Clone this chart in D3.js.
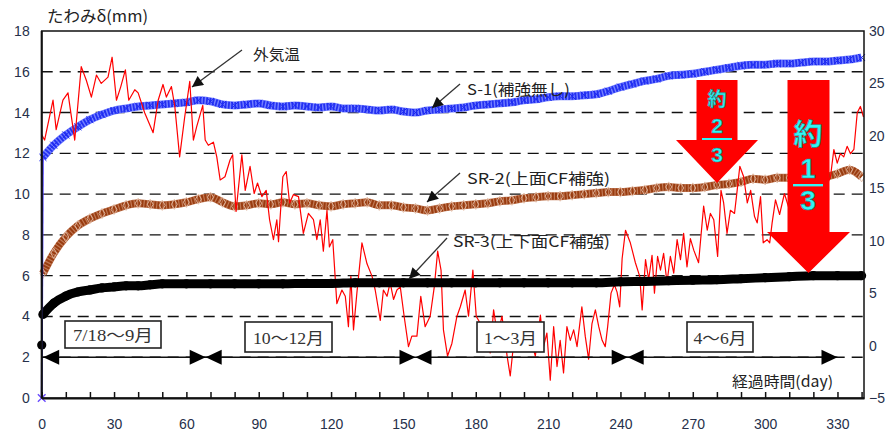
<!DOCTYPE html>
<html>
<head>
<meta charset="utf-8">
<script src="https://cdn.jsdelivr.net/npm/d3@7"></script>
<style>
body { margin: 0; background: #fff; }
text { font-family: "Liberation Sans", Arial, sans-serif; }
</style>
</head>
<body>
<div id="chart-area"></div>
<script>
// deflection series [day, mm]
var s1 = [[0,0],[0.5,11.8],[5,12.4],[10,12.9],[15,13.3],[20,13.65],[25,13.9],[30,14.1],[35,14.2],[40,14.3],
  [45,14.35],[50,14.4],[55,14.45],[60,14.5],[65,14.6],[70,14.55],[75,14.4],[80,14.35],[85,14.4],[90,14.45],
  [95,14.35],[100,14.3],[105,14.35],[110,14.3],[115,14.25],[120,14.3],[125,14.2],[130,14.2],[135,14.15],[140,14.1],
  [145,14.15],[150,14.05],[155,14.0],[160,14.1],[165,14.15],[170,14.2],[175,14.25],[180,14.35],[185,14.4],[190,14.45],
  [195,14.5],[200,14.6],[205,14.65],[210,14.75],[215,14.8],[220,14.8],[225,14.85],[230,14.9],[235,15.05],[240,15.25],
  [245,15.4],[250,15.55],[255,15.65],[260,15.8],[265,15.85],[270,15.9],[275,16.0],[280,16.1],[285,16.2],[290,16.3],
  [295,16.35],[300,16.35],[305,16.4],[310,16.4],[315,16.45],[320,16.5],[325,16.5],[330,16.55],[335,16.6],[340,16.7]];

var sr2 = [[0,0],[0.5,6.1],[5,7.1],[10,7.9],[15,8.45],[20,8.8],[25,9.05],[30,9.25],[35,9.45],[40,9.55],
  [45,9.5],[50,9.45],[55,9.5],[60,9.6],[65,9.75],[70,9.85],[75,9.6],[80,9.4],[85,9.45],[90,9.55],
  [95,9.5],[100,9.6],[105,9.5],[110,9.55],[115,9.45],[120,9.4],[125,9.5],[130,9.55],[135,9.6],[140,9.45],
  [145,9.45],[150,9.35],[155,9.3],[160,9.2],[165,9.3],[170,9.4],[175,9.45],[180,9.5],[185,9.55],[190,9.65],
  [195,9.7],[200,9.8],[205,9.85],[210,9.9],[215,9.9],[220,9.95],[225,10.0],[230,10.05],[235,10.1],[240,10.1],
  [245,10.15],[250,10.2],[255,10.3],[260,10.35],[265,10.3],[270,10.3],[275,10.35],[280,10.45],[285,10.5],[290,10.6],
  [295,10.75],[300,10.7],[305,10.8],[310,10.8],[315,10.85],[320,10.8],[325,10.85],[330,11.0],[335,11.2],[340,10.85]];

var sr3 = [[0,0],[0,2.6],[0.5,4.1],[5,4.65],[10,5.0],[15,5.2],[20,5.3],[25,5.4],[30,5.45],[35,5.5],
  [40,5.5],[45,5.55],[50,5.6],[60,5.6],[70,5.6],[80,5.6],[90,5.6],[100,5.6],[110,5.62],[120,5.62],
  [130,5.65],[140,5.65],[150,5.65],[160,5.65],[170,5.65],[180,5.65],[190,5.65],[200,5.65],[210,5.65],[220,5.65],
  [230,5.65],[240,5.7],[250,5.72],[260,5.75],[270,5.78],[280,5.8],[290,5.85],[300,5.9],[310,5.95],[320,6.0],
  [330,6.0],[340,6.0]];

// outside air temperature [day, °C] (right axis)
var temp = [[0,20.1],[1.2,19.6],[4.7,23.4],[6,20.6],[8.8,23.4],[10.9,24.1],[13.7,19.6],[16.4,26.6],[18.5,25.3],[20.6,23.7],
  [22.7,25.8],[24.7,25.0],[27.5,25.6],[29.2,27.5],[31,23.4],[32.8,24.7],[34.7,26.3],[36.1,23.4],[38.6,24.4],[40,24.1],
  [42.7,22.2],[46.2,20.3],[48.3,23.4],[50.3,24.9],[51.7,23.7],[53.8,24.7],[55.2,22.8],[57.2,18.0],[59.3,21.8],[61.4,25.2],
  [62.9,19.6],[64.3,20.9],[66.8,22.9],[67.8,19.6],[69.1,19.1],[71.2,19.4],[72.6,18.0],[74,15.8],[76,16.1],[78.1,17.7],
  [79.2,18.2],[80.6,12.8],[83,18.2],[84.4,14.8],[86.4,17.1],[88.1,14.5],[89.5,15.5],[91.3,14.2],[93.1,14.8],[94.5,12.0],
  [96.1,10.1],[97.5,12.0],[98.2,9.9],[100,16.1],[101.4,16.6],[102.8,13.6],[104.4,14.4],[106.5,14.2],[108.5,10.7],[110.6,12.6],
  [112.7,12.0],[114.1,10.1],[115.5,12.0],[116.8,9.0],[118.3,12.9],[119.3,9.4],[120.7,10.1],[122.4,4.0],[124.5,5.3],[125.9,4.7],
  [127.2,1.8],[128.2,6.6],[129.3,1.5],[130.7,5.0],[132.8,9.8],[134.9,7.8],[137,6.6],[138.3,5.3],[140.4,2.4],[141.7,5.3],
  [143.2,4.7],[144.5,6.0],[145.9,4.4],[147.3,5.3],[148.7,5.6],[150.3,2.8],[152.1,-0.1],[153.5,0.9],[155.6,0.9],[157.2,4.7],
  [159,1.8],[161.1,2.8],[162.8,5.6],[164.2,9.0],[165.6,7.2],[166.6,1.5],[168.3,-1.0],[170.1,0.2],[172.2,2.8],[173.6,3.7],
  [175.6,5.3],[177,2.8],[178.8,7.2],[180.2,2.8],[181.9,2.1],[184,0.5],[186,-0.7],[187.4,3.4],[189,1.0],[190.9,2.8],
  [193,-1.0],[194.3,-2.9],[195.7,0.2],[197.5,1.2],[199.2,-0.4],[200.5,1.5],[202.5,0.8],[204.7,-1.0],[206.8,2.9],[208.1,-0.1],
  [209.5,1.2],[210.9,-3.3],[212.3,1.8],[213.7,-2.0],[215,0.5],[216.4,-2.6],[217.8,1.8],[219.2,0.5],[220.6,1.5],[222,-0.1],
  [224,3.7],[225.4,0.9],[226.8,-1.3],[228.2,2.1],[229.6,3.4],[231,1.8],[232.4,0.5],[233.7,-0.1],[234.7,1.8],[236.1,5.0],
  [237.5,5.8],[238.6,5.1],[239.7,3.7],[240.7,8.3],[242.1,11.0],[244.1,9.8],[246.2,7.9],[248,6.6],[249,3.4],[250.4,8.2],
  [251.7,6.3],[253.1,8.6],[254.1,5.0],[255.4,8.5],[256.6,7.2],[257.9,8.8],[259.3,6.0],[260.7,8.5],[262.1,6.9],[263.5,10.1],
  [264.9,8.2],[266.2,10.7],[267.6,7.5],[269,10.2],[270.4,9.1],[272.4,7.9],[274.5,13.3],[276,11.0],[277.3,12.6],[278.7,12.0],
  [280.3,8.5],[281.7,14.8],[282.8,13.6],[284.2,10.7],[285.6,12.9],[287.3,12.6],[288.4,14.8],[289.5,17.1],[291.1,16.1],[292.6,13.6],
  [294,14.8],[295.6,12.3],[296.7,11.7],[298.1,14.2],[299.2,9.8],[300.8,10.1],[301.9,9.8],[302.9,11.7],[304.3,13.9],[306,12.5],
  [308,14.5],[310,13.0],[312,15.5],[314,13.8],[316,15.0],[318,12.8],[320,14.6],[322,16.0],[324,14.2],[326,15.5],
  [327.1,16.1],[328.5,18.7],[329.9,17.4],[331.2,18.3],[332.6,18.0],[334,19.0],[335.4,18.3],[336.8,18.7],[338.2,22.2],[339.5,22.8],
  [340.8,21.8]];

// period bars
var periodBounds = [0, 68, 155, 243, 330];
var periodLabels = ["7/18〜9月", "10〜12月", "1〜3月", "4〜6月"];

// ticks
var leftTicks = [0, 2, 4, 6, 8, 10, 12, 14, 16, 18];
var rightTicks = [-5, 0, 5, 10, 15, 20, 25, 30];
var xTicks = [0, 30, 60, 90, 120, 150, 180, 210, 240, 270, 300, 330];

var margin = { left: 41.7, right: 32, top: 31, bottom: 39 };
var width = 896 - margin.left - margin.right,
    height = 437 - margin.top - margin.bottom;

var svg = d3.select("#chart-area").append("svg")
    .attr("width", 896).attr("height", 437);

var defs = svg.append("defs");
defs.append("marker")
    .attr("id", "head")
    .attr("viewBox", "0 0 10 10")
    .attr("refX", 10).attr("refY", 5)
    .attr("markerUnits", "userSpaceOnUse")
    .attr("markerWidth", 15).attr("markerHeight", 11)
    .attr("orient", "auto")
  .append("path")
    .attr("d", "M0,0L10,5L0,10z")
    .attr("fill", "#111");

var g = svg.append("g")
    .attr("transform", "translate(" + margin.left + "," + margin.top + ")");

var x = d3.scaleLinear().domain([0, 341]).range([0, width]);
var y = d3.scaleLinear().domain([0, 18]).range([height, 0]);
var y2 = d3.scaleLinear().domain([-5, 30]).range([height, 0]);

// dashed grid
g.selectAll(".grid").data(leftTicks.filter(function(d){ return d > 0 && d < 18; }))
  .enter().append("line")
    .attr("x1", 0).attr("x2", width)
    .attr("y1", function(d){ return y(d); }).attr("y2", function(d){ return y(d); })
    .attr("stroke", "#111").attr("stroke-width", 1.4)
    .attr("stroke-dasharray", "11,7");

var line = d3.line().x(function(d){ return x(d[0]); }).y(function(d){ return y(d[1]); });
var smooth = d3.line().curve(d3.curveMonotoneX)
    .x(function(d){ return x(d[0]); }).y(function(d){ return y(d[1]); });
var line2 = d3.line().x(function(d){ return x(d[0]); }).y(function(d){ return y2(d[1]); });

// thick textured band (many overlapping markers in the original)
function band(data, start, light, dark, bw, dash) {
    var part = data.slice(start);
    g.append("path").datum(part)
        .attr("d", smooth).attr("fill", "none")
        .attr("stroke", light).attr("stroke-width", bw)
        .attr("stroke-linejoin", "round");
    g.append("path").datum(part)
        .attr("d", smooth).attr("fill", "none")
        .attr("stroke", dark).attr("stroke-width", bw - 1)
        .attr("stroke-dasharray", dash);
}

// S-1
band(s1, 1, "#7480ff", "#2330f2", 8, "1.8,1.4");
g.selectAll(".m1").data(s1.slice(1)).enter().append("path")
    .attr("transform", function(d){ return "translate(" + x(d[0]) + "," + y(d[1]) + ")"; })
    .attr("d", d3.symbol().type(d3.symbolX).size(34))
    .attr("fill", "none").attr("stroke", "#1b28f2").attr("stroke-width", 1);

// SR-2
band(sr2, 1, "#c17955", "#993c10", 8, "2,1.2");
g.selectAll(".m2").data(sr2.slice(1)).enter().append("path")
    .attr("transform", function(d){ return "translate(" + x(d[0]) + "," + y(d[1]) + ")"; })
    .attr("d", d3.symbol().type(d3.symbolDiamond).size(30))
    .attr("fill", "none").attr("stroke", "#e2bca6").attr("stroke-width", 0.9);

// temperature
g.append("path").datum(temp)
    .attr("d", line2).attr("fill", "none")
    .attr("stroke", "#ff0000").attr("stroke-width", 1.2)
    .attr("stroke-linejoin", "round");

// SR-3
g.append("path").datum(sr3.slice(2))
    .attr("d", smooth).attr("fill", "none")
    .attr("stroke", "#000").attr("stroke-width", 9)
    .attr("stroke-linejoin", "round");
g.selectAll(".m3").data(sr3.slice(1)).enter().append("circle")
    .attr("cx", function(d){ return x(d[0]); }).attr("cy", function(d){ return y(d[1]); })
    .attr("r", 4.6).attr("fill", "#000");

// initial jumps at day 0
g.append("path").datum(s1.slice(0, 2))
    .attr("d", line).attr("fill", "none")
    .attr("stroke", "#4a3cff").attr("stroke-width", 1.8);
g.append("path")
    .attr("transform", "translate(" + x(0) + "," + y(0) + ")")
    .attr("d", d3.symbol().type(d3.symbolX).size(40))
    .attr("fill", "none").attr("stroke", "#6a4cff").attr("stroke-width", 1.4);

// period bars on the 2 mm line
var py = y(2);
g.append("line")
    .attr("x1", x(periodBounds[0])).attr("x2", x(periodBounds[periodBounds.length - 1]))
    .attr("y1", py).attr("y2", py)
    .attr("stroke", "#111").attr("stroke-width", 1.4);
function tri(tipX, dir) {
    return "M" + tipX + "," + py + "L" + (tipX - dir * 16) + "," + (py - 7.5) +
        "L" + (tipX - dir * 16) + "," + (py + 7.5) + "Z";
}
periodLabels.forEach(function(lab, i) {
    var a = x(periodBounds[i]) + (i === 0 ? 1.5 : 0), b = x(periodBounds[i + 1]);
    g.append("path").attr("d", tri(a, -1)).attr("fill", "#000");
    g.append("path").attr("d", tri(b, 1)).attr("fill", "#000");
});

// period boxes
var boxes = [
    { cx: 113, w: 96, y0: 321, h: 27, tl: 80 },
    { cx: 288.5, w: 87, y0: 322, h: 30, tl: 71 },
    { cx: 510.5, w: 67, y0: 322, h: 30, tl: 53 },
    { cx: 720, w: 66, y0: 322, h: 30, tl: 53 }
];
boxes.forEach(function(b, i) {
    svg.append("rect")
        .attr("x", b.cx - b.w / 2).attr("y", b.y0)
        .attr("width", b.w).attr("height", b.h)
        .attr("fill", "#fff").attr("stroke", "#222").attr("stroke-width", 1.6);
    svg.append("text")
        .attr("x", b.cx).attr("y", b.y0 + b.h / 2 + 1)
        .attr("text-anchor", "middle").attr("dominant-baseline", "central")
        .attr("font-size", "16px")
        .attr("textLength", b.tl).attr("lengthAdjust", "spacingAndGlyphs")
        .style("font-family", "'Liberation Serif', 'DejaVu Serif', 'Noto Sans CJK JP', serif")
        .attr("fill", "#333")
        .text(periodLabels[i]);
});

// series callouts
var notes = [
    { t: "外気温", tx: 253, ty: 53, tl: 47, x1: 242, y1: 50, x2: 192, y2: 87 },
    { t: "S-1(補強無し)", tx: 467, ty: 88, tl: 103, x1: 460, y1: 84, x2: 432, y2: 108 },
    { t: "SR-2(上面CF補強)", tx: 467, ty: 177, tl: 143, x1: 460, y1: 173, x2: 427, y2: 202 },
    { t: "SR-3(上下面CF補強)", tx: 453, ty: 240, tl: 157, x1: 447, y1: 238, x2: 409, y2: 279 }
];
notes.forEach(function(n) {
    svg.append("line")
        .attr("x1", n.x1).attr("y1", n.y1).attr("x2", n.x2).attr("y2", n.y2)
        .attr("stroke", "#333").attr("stroke-width", 1.3)
        .attr("marker-end", "url(#head)");
    svg.append("text")
        .attr("x", n.tx).attr("y", n.ty)
        .attr("dominant-baseline", "central")
        .attr("font-size", "15px")
        .attr("textLength", n.tl).attr("lengthAdjust", "spacingAndGlyphs")
        .style("font-family", "'Noto Sans CJK JP', sans-serif")
        .attr("fill", "#222")
        .text(n.t);
});

// red block arrows
function blockArrow(cx, sw, top, hb, hw, tip) {
    return "M" + (cx - sw / 2) + "," + top + "L" + (cx + sw / 2) + "," + top +
        "L" + (cx + sw / 2) + "," + hb + "L" + (cx + hw / 2) + "," + hb +
        "L" + cx + "," + tip + "L" + (cx - hw / 2) + "," + hb +
        "L" + (cx - sw / 2) + "," + hb + "Z";
}
svg.append("path").attr("d", blockArrow(717, 41, 80, 140, 82, 183)).attr("fill", "#ff0000");
svg.append("path").attr("d", blockArrow(808.5, 42, 80, 232, 83, 273)).attr("fill", "#ff0000");

function cyanText(tx, ty, size, s, fam) {
    svg.append("text")
        .attr("x", tx).attr("y", ty)
        .attr("text-anchor", "middle").attr("dominant-baseline", "central")
        .attr("font-size", size + "px").attr("font-weight", "bold")
        .style("font-family", fam)
        .attr("fill", "#35f4f4")
        .attr("stroke", "#138c8c").attr("stroke-width", 0.6)
        .text(s);
}
var jp = "'Noto Sans CJK JP', sans-serif", lat = "'Liberation Sans', Arial, sans-serif";
cyanText(717, 97, 19, "約", jp);
cyanText(717, 125, 21, "2", lat);
svg.append("rect").attr("x", 702).attr("y", 138).attr("width", 30).attr("height", 2).attr("fill", "#35f4f4");
cyanText(717, 154, 21, "3", lat);
cyanText(808, 132, 29, "約", jp);
cyanText(808, 169, 27, "1", lat);
svg.append("rect").attr("x", 793).attr("y", 184).attr("width", 30).attr("height", 2.4).attr("fill", "#35f4f4");
cyanText(808, 200, 28, "3", lat);

// frame
g.append("rect")
    .attr("width", width).attr("height", height)
    .attr("fill", "none").attr("stroke", "#111").attr("stroke-width", 1.5);
g.append("line").attr("x1", 0).attr("x2", 0).attr("y1", 0).attr("y2", height)
    .attr("stroke", "#111").attr("stroke-width", 2);

// axes
var xAxisCall = d3.axisBottom(x)
    .tickValues(d3.range(0, 341, 10))
    .tickSizeInner(-6).tickSizeOuter(0).tickPadding(21)
    .tickFormat(function(d){ return xTicks.indexOf(d) >= 0 ? d : ""; });
var xg = g.append("g")
    .attr("transform", "translate(0," + height + ")")
    .call(xAxisCall);
xg.select(".domain").attr("stroke", "#111").attr("stroke-width", 2);
xg.selectAll("line").attr("stroke", "#111").attr("stroke-width", 1.5);

var yAxisCall = d3.axisLeft(y).tickValues(leftTicks).tickSize(0).tickPadding(12);
var yg = g.append("g").call(yAxisCall);
yg.select(".domain").remove();

var y2AxisCall = d3.axisRight(y2).tickValues(rightTicks).tickSize(0).tickPadding(5);
var y2g = g.append("g").attr("transform", "translate(" + width + ",0)").call(y2AxisCall);
y2g.select(".domain").remove();

svg.selectAll(".tick text")
    .attr("font-size", "14px")
    .style("font-family", "'Liberation Sans', Arial, sans-serif")
    .attr("fill", "#26304a");

// axis titles
svg.append("text")
    .attr("x", 47).attr("y", 15).attr("dominant-baseline", "central")
    .attr("font-size", "16px")
    .attr("textLength", 101).attr("lengthAdjust", "spacingAndGlyphs")
    .style("font-family", "'Noto Sans CJK JP', sans-serif")
    .attr("fill", "#222")
    .text("たわみδ(mm)");

svg.append("text")
    .attr("x", 732).attr("y", 380).attr("dominant-baseline", "central")
    .attr("font-size", "15px")
    .attr("textLength", 101).attr("lengthAdjust", "spacingAndGlyphs")
    .style("font-family", "'Noto Sans CJK JP', sans-serif")
    .attr("fill", "#222")
    .text("経過時間(day)");
</script>
</body>
</html>
